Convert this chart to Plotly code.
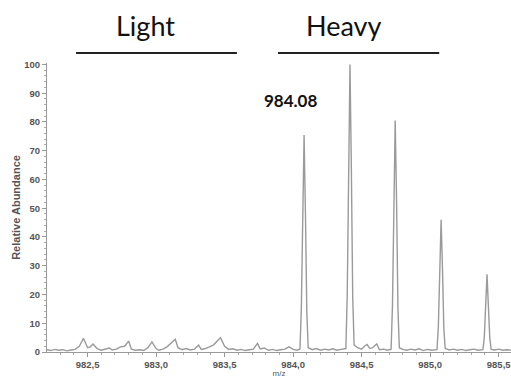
import plotly.graph_objects as go

# m/z profile spectrum
mz = [
    982.20, 982.23, 982.26, 982.29, 982.32, 982.35, 982.38, 982.41, 982.44, 982.47,
    982.50, 982.52, 982.54, 982.57, 982.60, 982.63, 982.66, 982.68, 982.71, 982.74,
    982.77, 982.80, 982.82, 982.85, 982.88, 982.91, 982.94, 982.97, 983.00, 983.02,
    983.05, 983.08, 983.11, 983.14, 983.16, 983.19, 983.22, 983.25, 983.28, 983.31,
    983.33, 983.36, 983.39, 983.42, 983.45, 983.47, 983.50, 983.53, 983.56, 983.59,
    983.62, 983.65, 983.68, 983.71, 983.74, 983.76, 983.79, 983.82, 983.85, 983.88,
    983.91, 983.94, 983.97, 984.00, 984.03,
    984.05, 984.06, 984.07, 984.08, 984.09, 984.10, 984.11,
    984.14, 984.17, 984.20, 984.23, 984.26, 984.29, 984.32, 984.35,
    984.385, 984.395, 984.405, 984.415, 984.425, 984.435, 984.445,
    984.47, 984.50, 984.52, 984.54, 984.56, 984.58, 984.61, 984.63, 984.66, 984.69,
    984.715, 984.725, 984.735, 984.745, 984.755, 984.765, 984.775,
    984.80, 984.83, 984.86, 984.89, 984.92, 984.95, 984.98, 985.01, 985.03,
    985.05, 985.06, 985.07, 985.08, 985.09, 985.10, 985.11,
    985.14, 985.17, 985.20, 985.23, 985.26, 985.29, 985.32, 985.35, 985.37,
    985.385, 985.395, 985.405, 985.415, 985.425, 985.435, 985.445,
    985.47, 985.50, 985.53, 985.56, 985.60,
]
abundance = [
    0.8, 0.5, 0.9, 0.6, 0.8, 0.4, 0.7, 0.9, 2.0, 4.8,
    1.5, 1.8, 2.8, 1.2, 0.6, 0.9, 1.4, 0.7, 1.0, 1.8,
    2.0, 3.8, 1.0, 0.6, 0.8, 0.5, 1.5, 3.5, 1.2, 0.6,
    1.0, 1.8, 3.0, 4.4, 1.5, 0.8, 1.2, 0.7, 1.0, 2.4,
    0.9, 1.2, 1.8, 2.5, 4.0, 5.0, 2.0, 0.9, 1.1, 0.6,
    0.9, 0.5, 0.8, 1.0, 3.0, 1.1, 1.4, 0.6, 0.9, 0.5,
    0.8, 1.0, 1.8, 0.9, 0.6,
    1.0, 15, 50, 75.5, 48, 14, 1.5,
    0.8, 1.2, 0.6, 1.0, 0.7, 1.1, 0.6, 0.9,
    1.2, 20, 66, 100, 64, 19, 2.5,
    1.5, 1.0, 2.0, 2.6, 1.2, 1.5, 2.8, 0.8, 1.0, 0.6,
    1.0, 16, 54, 80.5, 52, 15, 1.5,
    0.9, 0.6, 1.0, 0.7, 1.1, 0.5, 0.9, 0.6, 0.8,
    0.8, 9, 30, 46, 29, 8, 1.2,
    0.7, 1.0, 0.6, 0.9, 0.5, 0.8, 1.0, 0.6, 0.8,
    0.8, 5, 17, 27, 16, 5, 0.9,
    0.7, 1.0, 0.6, 0.8, 0.6,
]

x_ticks = [982.5, 983.0, 983.5, 984.0, 984.5, 985.0, 985.5]
x_tick_labels = ["982,5", "983,0", "983,5", "984,0", "984,5", "985,0", "985,5"]
y_ticks = [0, 10, 20, 30, 40, 50, 60, 70, 80, 90, 100]

peak_label = "984.08"
peak_label_mz = 983.98
groups = ["Light", "Heavy"]
group_label_mz = [982.92, 984.372]
group_start = [982.416, 983.89]
group_end = [983.59, 985.066]

fig = go.Figure()
fig.add_trace(go.Scatter(
    x=mz, y=abundance, mode="lines",
    line=dict(color="#9a9a9a", width=1.4),
    hoverinfo="skip", showlegend=False,
))

axis_font = dict(family="Liberation Sans, Arial, sans-serif", size=9.5, color="#555", weight="bold")

fig.update_layout(
    width=511, height=378,
    margin=dict(l=47, r=0, t=63, b=26, autoexpand=False),
    plot_bgcolor="white", paper_bgcolor="white",
    showlegend=False,
    xaxis=dict(
        range=[982.204, 985.59], automargin=False,
        tickvals=x_ticks, ticktext=x_tick_labels,
        ticklabeloverflow="allow",
        showgrid=False, zeroline=False,
        showline=True, linecolor="#999", linewidth=1,
        ticks="outside", ticklen=4, tickcolor="#999",
        minor=dict(dtick=0.1, tick0=982.0, ticks="outside", ticklen=2, tickcolor="#aaa"),
        tickfont=axis_font,
        title=dict(text="m/z", font=dict(family="Liberation Sans, Arial, sans-serif", size=8, color="#555"), standoff=2),
    ),
    yaxis=dict(
        range=[0, 100.5], automargin=False,
        tickvals=y_ticks,
        showgrid=False, zeroline=False,
        showline=True, linecolor="#999", linewidth=1,
        ticks="outside", ticklen=4, tickcolor="#999",
        minor=dict(dtick=2, ticks="outside", ticklen=2, tickcolor="#aaa"),
        tickfont=axis_font,
        title=dict(text="Relative Abundance",
                   font=dict(family="Liberation Sans, Arial, sans-serif", size=11, color="#555", weight="bold"),
                   standoff=1),
    ),
)

for name, lx, s, e in zip(groups, group_label_mz, group_start, group_end):
    fig.add_shape(type="line", xref="x", yref="paper", x0=s, x1=e, y0=1.0346, y1=1.0346,
                  line=dict(color="#222", width=2))
    fig.add_annotation(x=lx, y=1.131, xref="x", yref="paper", text=name,
                       showarrow=False, yanchor="middle",
                       font=dict(family="Lato, Carlito, sans-serif", size=27, color="#111"))

fig.add_annotation(x=peak_label_mz, y=87.5, xref="x", yref="y", text="<b>" + peak_label + "</b>",
                   showarrow=False, font=dict(family="Lato, sans-serif", size=17, color="#111"))

fig.write_html("out.html", config={"displayModeBar": False},
               post_script="document.body.style.margin='0';")
